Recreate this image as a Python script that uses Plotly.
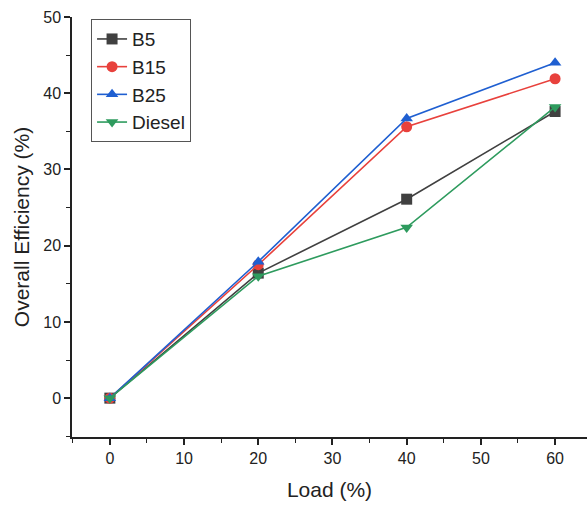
import plotly.graph_objects as go

load = [0, 20, 40, 60]
b5 = [0, 16.4, 26.1, 37.6]
b15 = [0, 17.5, 35.6, 41.9]
b25 = [0, 17.9, 36.7, 44.0]
diesel = [0, 16.0, 22.4, 38.2]

series = [
    ("B5", b5, "#404040", "square"),
    ("B15", b15, "#e8413c", "circle"),
    ("B25", b25, "#1f5fd1", "triangle-up"),
    ("Diesel", diesel, "#2e9b5e", "triangle-down"),
]

FONT = "Liberation Sans, Arial"

fig = go.Figure()
for name, vals, color, sym in series:
    fig.add_trace(go.Scatter(
        x=load, y=vals, name=name, mode="lines+markers",
        line=dict(color=color, width=1.6),
        marker=dict(symbol=sym, size=11, color=color),
    ))

axis_common = dict(
    showline=True, linecolor="#222", linewidth=1.5,
    ticks="outside", ticklen=6, tickwidth=1.5, tickcolor="#222",
    showgrid=False, zeroline=False,
    tickfont=dict(family=FONT, size=16, color="#222"),
    minor=dict(ticks="outside", ticklen=4, tickwidth=1.2, tickcolor="#222", dtick=5),
)

fig.update_xaxes(range=[-5.1, 64.3], dtick=10, tick0=0,
                 title=dict(text="Load (%)", font=dict(family=FONT, size=21, color="#222"), standoff=16),
                 **axis_common)
fig.update_yaxes(range=[-5.1, 50], dtick=10, tick0=0,
                 title=dict(text="Overall Efficiency (%)", font=dict(family=FONT, size=21, color="#222"), standoff=8),
                 **axis_common)

fig.update_layout(
    width=587, height=506,
    margin=dict(l=72, r=0, t=17, b=69),
    paper_bgcolor="white", plot_bgcolor="white",
    showlegend=True,
    legend=dict(x=0.037, y=0.995, xanchor="left", yanchor="top",
                bordercolor="#555", borderwidth=1, bgcolor="white",
                font=dict(family=FONT, size=19, color="#222"),
                tracegroupgap=0, itemwidth=30),
)

fig.write_html("out.html")
